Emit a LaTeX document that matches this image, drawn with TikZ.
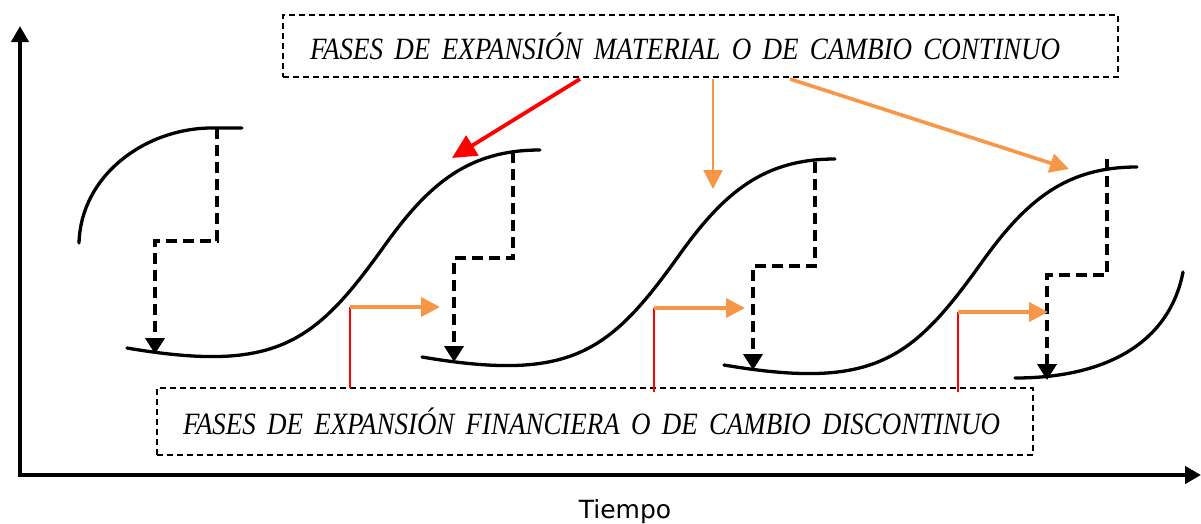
\documentclass[tikz,border=0pt]{standalone}
\usepackage{fontspec}
\setmainfont{Liberation Serif}
\newfontfamily\tiempofont{DejaVu Sans}
\usetikzlibrary{arrows.meta}
\definecolor{myorange}{RGB}{247,150,70}
\newcommand{\boxlabel}[2]{\resizebox{#1}{\height}{\fontsize{31}{33}\selectfont\itshape\spaceskip=0.42em #2}}
\begin{document}
\begin{tikzpicture}[x=1pt,y=-1pt,
  axis/.style={line width=4.5pt, {Triangle[length=16pt,width=17pt]}-{Triangle[length=16pt,width=17pt]}},
  curve/.style={line width=3.3pt, line cap=round},
  stepline/.style={line width=3.8pt, dash pattern=on 11pt off 6pt, -{Triangle[length=16pt,width=19pt]}},
  labelbox/.style={draw, dash pattern=on 6pt off 4pt, line width=1.3pt, inner ysep=0pt, align=left},
  orangearrow/.style={myorange, line width=3.6pt, -{Triangle[length=19pt,width=19pt]}},
  redline/.style={red, line width=1.4pt},
  redarrow/.style={red, line width=3.8pt, -{Triangle[length=24pt,width=23pt]}}
]
\useasboundingbox (0,0) rectangle (1201,523);

% axes
\coordinate (ytip) at (20,26);
\coordinate (origin) at (20,475);
\coordinate (xtip) at (1201,475);
\draw[axis] (ytip) -- (origin) -- (xtip);
\node[font=\tiempofont\fontsize{25}{27}\selectfont, anchor=base] (tiempo) at (625,518) {Tiempo};

% label boxes
\node[labelbox, inner xsep=27pt, text width=781pt, minimum height=62pt] (topbox) at (700.5,46)
  {\boxlabel{750pt}{FASES DE EXPANSIÓN MATERIAL O DE CAMBIO CONTINUO}};
\node[labelbox, inner xsep=26pt, text width=824pt, minimum height=67pt] (botbox) at (595,421.5)
  {\boxlabel{817pt}{FASES DE EXPANSIÓN FINANCIERA O DE CAMBIO DISCONTINUO}};

% curves
\draw[curve] (79,243) .. controls (81,175) and (145,129) .. (210,128) -- (242,128);
\draw[curve] (127,348) .. controls (277,373.5) and (315,343) .. (385,245)
             .. controls (430,182) and (470,150) .. (540,150);
\draw[curve] (422,357) .. controls (572,382.5) and (610,352) .. (680,254)
             .. controls (725,191) and (765,159) .. (835,159);
\draw[curve] (724,365) .. controls (874,390.5) and (912,360) .. (982,262)
             .. controls (1027,199) and (1067,167) .. (1137,167);
\draw[curve] (1015,378) .. controls (1110,378) and (1170,340) .. (1183,272);

% dashed steps
\coordinate (s0a) at (217,128); \coordinate (s0b) at (217,241); \coordinate (s0c) at (155,241); \coordinate (s0d) at (155,354);
\coordinate (s1a) at (513,152); \coordinate (s1b) at (513,258); \coordinate (s1c) at (454,258); \coordinate (s1d) at (454,362);
\coordinate (s2a) at (815,162); \coordinate (s2b) at (815,266); \coordinate (s2c) at (753,266); \coordinate (s2d) at (753,370);
\coordinate (s3a) at (1107,159); \coordinate (s3b) at (1107,275); \coordinate (s3c) at (1047,275); \coordinate (s3d) at (1047,380);
\draw[stepline] (s0a) -- (s0b) -- (s0c) -- (s0d);
\draw[stepline] (s1a) -- (s1b) -- (s1c) -- (s1d);
\draw[stepline] (s2a) -- (s2b) -- (s2c) -- (s2d);
\draw[stepline] (s3a) -- (s3b) -- (s3c) -- (s3d);

% orange/red step arrows from bottom box
\coordinate (r1b) at (350,388); \coordinate (r1t) at (350,307); \coordinate (o1) at (440,307);
\coordinate (r2b) at (654,392); \coordinate (r2t) at (654,308); \coordinate (o2) at (745,308);
\coordinate (r3b) at (958,392); \coordinate (r3t) at (958,312); \coordinate (o3) at (1048,312);
\draw[redline] (r1b) -- (r1t); \draw[orangearrow] (r1t) -- (o1);
\draw[redline] (r2b) -- (r2t); \draw[orangearrow] (r2t) -- (o2);
\draw[redline] (r3b) -- (r3t); \draw[orangearrow] (r3t) -- (o3);

% arrows from top box
\coordinate (ta1) at (580,79); \coordinate (tt1) at (452,158);
\coordinate (ta2) at (713,79); \coordinate (tt2) at (713,189);
\coordinate (ta3) at (790,79); \coordinate (tt3) at (1069,169);
\draw[redarrow] (ta1) -- (tt1);
\draw[orangearrow, line width=2.4pt] (ta2) -- (tt2);
\draw[orangearrow] (ta3) -- (tt3);
\end{tikzpicture}
\end{document}
